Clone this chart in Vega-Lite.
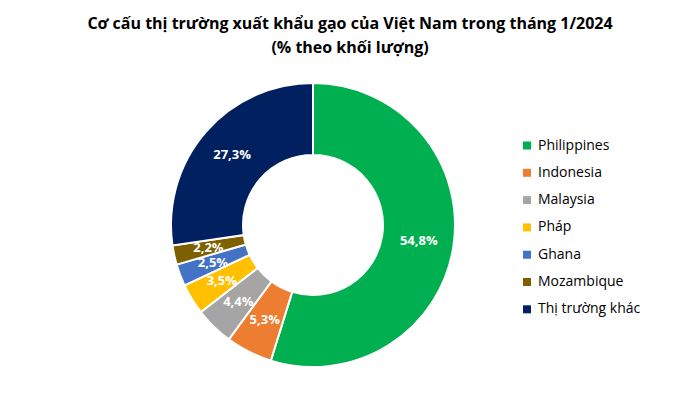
{
  "$schema": "https://vega.github.io/schema/vega-lite/v6.json",
  "autosize": {"type": "none"},
  "width": 626,
  "height": 340,
  "padding": {"left": 0, "top": 55, "right": 74, "bottom": 0},
  "background": "white",
  "title": {
    "text": ["Cơ cấu thị trường xuất khẩu gạo của Việt Nam trong tháng 1/2024", "(% theo khối lượng)"],
    "font": "Open Sans",
    "fontSize": 16,
    "fontWeight": "bold",
    "color": "#000000",
    "anchor": "middle",
    "dx": 37,
    "offset": -1,
    "lineHeight": 24
  },
  "data": {
    "values": [
      {"market": "Philippines", "value": 54.8, "label": "54,8%", "order": 1},
      {"market": "Indonesia", "value": 5.3, "label": "5,3%", "order": 2},
      {"market": "Malaysia", "value": 4.4, "label": "4,4%", "order": 3},
      {"market": "Pháp", "value": 3.5, "label": "3,5%", "order": 4},
      {"market": "Ghana", "value": 2.5, "label": "2,5%", "order": 5},
      {"market": "Mozambique", "value": 2.2, "label": "2,2%", "order": 6},
      {"market": "Thị trường khác", "value": 27.3, "label": "27,3%", "order": 7}
    ]
  },
  "encoding": {
    "theta": {"field": "value", "type": "quantitative", "stack": true},
    "order": {"field": "order", "type": "quantitative"},
    "color": {
      "field": "market",
      "type": "nominal",
      "scale": {
        "domain": ["Philippines", "Indonesia", "Malaysia", "Pháp", "Ghana", "Mozambique", "Thị trường khác"],
        "range": ["#00B050", "#ED7D31", "#A5A5A5", "#FFC000", "#4472C4", "#7F6000", "#002060"]
      },
      "legend": {
        "orient": "none",
        "legendX": 520,
        "legendY": 83.5,
        "title": null,
        "symbolType": "square",
        "symbolSize": 64,
        "symbolStrokeWidth": 0,
        "labelFont": "Open Sans",
        "labelFontSize": 14,
        "labelColor": "#000000",
        "labelOffset": 4,
        "rowPadding": 13.3
      }
    }
  },
  "layer": [
    {"mark": {"type": "arc", "outerRadius": 142, "innerRadius": 70, "stroke": "white", "strokeWidth": 2}},
    {
      "mark": {"type": "text", "radius": 107, "fontWeight": "bold", "fontSize": 13, "font": "Open Sans"},
      "encoding": {
        "text": {"field": "label"},
        "color": {"value": "white"}
      }
    }
  ]
}
